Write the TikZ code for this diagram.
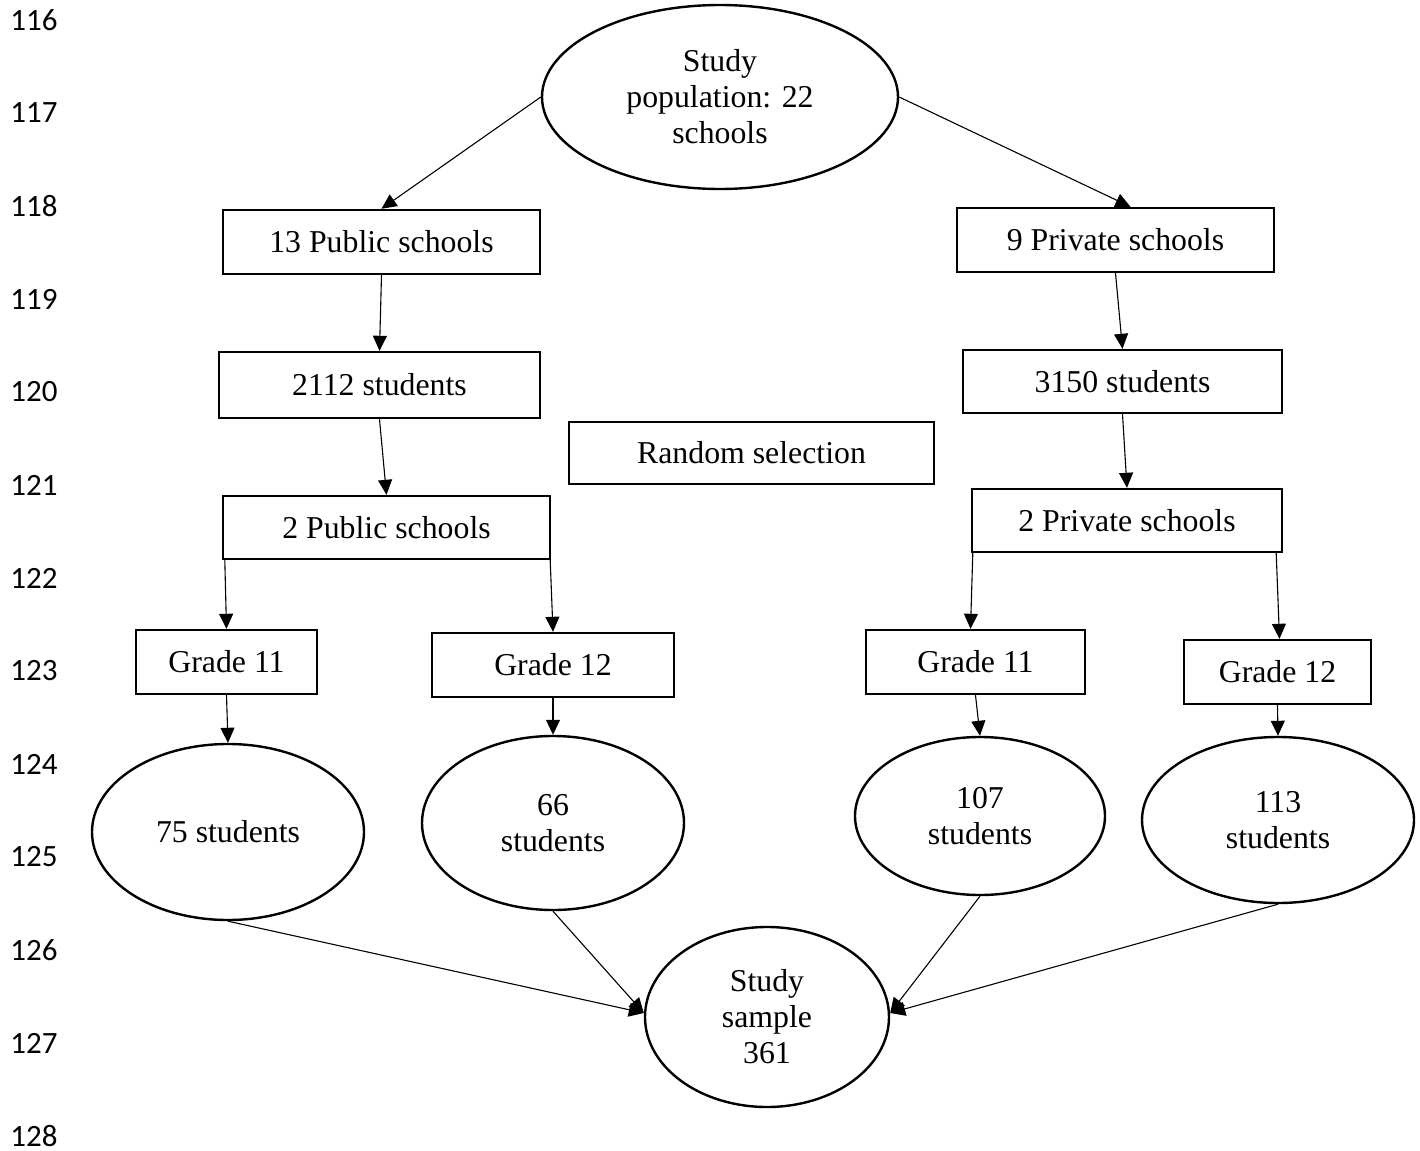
\documentclass[tikz,border=0pt]{standalone}
\usepackage{fontspec}
\setmainfont{Liberation Serif}
\newfontfamily\numfont{Carlito}
\usepackage{tikz}
\usetikzlibrary{arrows.meta,positioning,shapes.geometric}
\tikzset{
  >={Triangle[length=7.5pt,width=7pt]},
  box/.style={draw,line width=1.2pt,rectangle,inner sep=0pt,minimum height=32pt,font=\fontsize{15.9}{18}\selectfont,align=center},
  oval/.style={draw,line width=1.2pt,ellipse,inner sep=0pt,font=\fontsize{15.9}{18}\selectfont,align=center},
  arr/.style={->,line width=0.55pt},
  lnum/.style={anchor=west,inner sep=0pt,font=\numfont\fontsize{15.5}{18}\selectfont},
}
\begin{document}
\begin{tikzpicture}[x=0.5pt,y=-0.5pt]
\useasboundingbox (0,0) rectangle (1420,1151);
% line numbers
\foreach \n [count=\i from 0] in {116,...,128}{
  \node[lnum] (ln\n) at (10,20+93*\i) {\n};}
% nodes
\node[oval,minimum width=178pt,minimum height=92pt] (pop) at (720,97) {Study\\population: 22\\schools};
\node[box,minimum width=158.5pt] (pub) at (381.5,242) {13 Public schools};
\node[box,minimum width=158.5pt] (pri) at (1115.5,240) {9 Private schools};
\node[box,minimum width=160.5pt,minimum height=33pt] (stdA) at (379.5,385) {2112 students};
\node[box,minimum width=159.5pt,minimum height=31.5pt] (stdB) at (1122.5,381.5) {3150 students};
\node[box,minimum width=182.5pt,minimum height=31pt] (rand) at (751.5,453) {Random selection};
\node[box,minimum width=163.5pt,minimum height=31.5pt] (schA) at (386.5,527.5) {2 Public schools};
\node[box,minimum width=155pt,minimum height=31.5pt] (schB) at (1127,520.5) {2 Private schools};
\node[box,minimum width=90.5pt] (gA11) at (226.5,662) {Grade 11};
\node[box,minimum width=121pt] (gA12) at (553,665) {Grade 12};
\node[box,minimum width=109.5pt] (gB11) at (975.5,662) {Grade 11};
\node[box,minimum width=93.5pt] (gB12) at (1277.5,672) {Grade 12};
\node[oval,minimum width=136pt,minimum height=88pt] (nA11) at (228,832) {75 students};
\node[oval,minimum width=131pt,minimum height=87pt] (nA12) at (553,823) {66\\students};
\node[oval,minimum width=125pt,minimum height=79pt] (nB11) at (980,816) {107\\students};
\node[oval,minimum width=136pt,minimum height=83pt] (nB12) at (1278,820) {113\\students};
\node[oval,minimum width=122pt,minimum height=90pt] (smp) at (767,1017) {Study\\sample\\361};
% arrows
\draw[arr] (pop.west) -- (pub.north);
\draw[arr] (pop.east) -- ([xshift=7.5pt]pri.north);
\draw[arr] (pub.south) -- (stdA.north);
\draw[arr] (pri.south) -- (stdB.north);
\draw[arr] (stdA.south) -- (schA.north);
\draw[arr] (stdB.south) -- (schB.north);
\draw[arr] ([xshift=1.5pt]schA.south west) -- (gA11.north);
\draw[arr] ([xshift=-0.5pt]schA.south east) -- (gA12.north);
\draw[arr] ([xshift=1pt]schB.south west) -- ([xshift=-2.5pt]gB11.north);
\draw[arr] ([xshift=-3.5pt]schB.south east) -- ([xshift=1pt]gB12.north);
\draw[arr] (gA11.south) -- (nA11.north);
\draw[arr] (gA12.south) -- (nA12.north);
\draw[arr] (gB11.south) -- (nB11.north);
\draw[arr] (gB12.south) -- (nB12.north);
\draw[arr] (nA11.south) -- ([yshift=2pt]smp.west);
\draw[arr] (nA12.south) -- ([yshift=2pt]smp.west);
\draw[arr] (nB11.south) -- ([yshift=2pt]smp.east);
\draw[arr] (nB12.south) -- ([yshift=2pt]smp.east);
\end{tikzpicture}
\end{document}
